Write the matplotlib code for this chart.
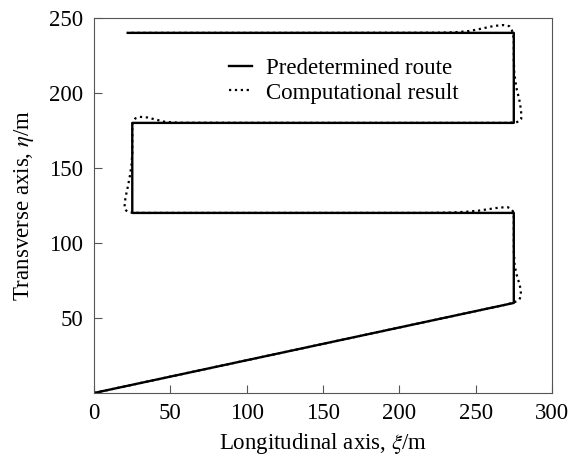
import matplotlib
matplotlib.use("Agg")
import matplotlib.pyplot as plt

plt.rcParams['font.family'] = ['Liberation Serif', 'DejaVu Serif']
plt.rcParams['mathtext.fontset'] = 'stix'

# Predetermined route (waypoints)
route_x = [0, 275, 275, 25, 25, 275, 275, 22]
route_y = [0, 60, 120, 120, 180, 180, 240, 240]

# Computational result
calc_x = [0, 270, 275, 277.5, 279, 279.7, 279.3, 278, 276.5, 275.5, 275, 275,
          275, 274.5, 273, 271, 266, 259, 252, 244, 235, 220, 150, 40, 30,
          25, 22, 20.5, 20, 20.5, 22, 23.5, 24.5, 25, 25, 25, 25.5, 27, 30,
          35, 40, 46, 55, 150, 260, 270, 276, 278.5, 279.8, 280, 279.5, 278.5,
          277, 276, 275.3, 275, 275, 274.5, 273.5, 272, 268, 262, 256, 250,
          244, 236, 225, 150, 22]
calc_y = [0, 58.9, 60.3, 61.5, 63, 66, 70, 75, 80, 86, 95, 110,
          118, 121, 122.8, 123.8, 123.6, 122.6, 121.5, 120.8, 120.3, 120, 120, 120, 120,
          120.2, 120.8, 122, 125, 130, 137, 145, 152, 160, 170, 178, 181, 183, 184,
          183.6, 182.3, 180.8, 180.1, 180, 180, 180, 180.3, 181, 182.5, 185, 190, 196,
          202, 208, 214, 222, 235, 239.5, 242.5, 244.5, 245.2, 244.6, 243.3, 242,
          241, 240.4, 240.1, 240, 240]

x_ticks = [0, 50, 100, 150, 200, 250, 300]
y_ticks = [50, 100, 150, 200, 250]

fig = plt.figure(figsize=(5.81, 4.58), dpi=100)
ax = fig.add_axes([0.162, 0.142, 0.788, 0.819])

ax.plot(route_x, route_y, color='black', lw=1.7, label='Predetermined route')
ax.plot(calc_x, calc_y, color='black', lw=1.6, ls=':', label='Computational result')

ax.set_xlim(0, 300)
ax.set_ylim(0, 250)
ax.set_xticks(x_ticks)
ax.set_yticks(y_ticks)
ax.tick_params(direction='in', labelsize=16.5, length=6, color='#555555')
ax.tick_params(axis='x', pad=7)
ax.tick_params(axis='y', pad=8)
for s in ax.spines.values():
    s.set_color('#555555')

ax.set_xlabel('Longitudinal axis, $\\xi$/m', fontsize=16.5, labelpad=5)
ax.set_ylabel('Transverse axis, $\\eta$/m', fontsize=16.5, labelpad=9)

ax.legend(loc='upper left', bbox_to_anchor=(0.295, 0.893), frameon=False,
          fontsize=16.5, handlelength=1.0, handletextpad=0.6,
          labelspacing=0.15, borderaxespad=0, borderpad=0)

fig.savefig('out.png', dpi=100)
